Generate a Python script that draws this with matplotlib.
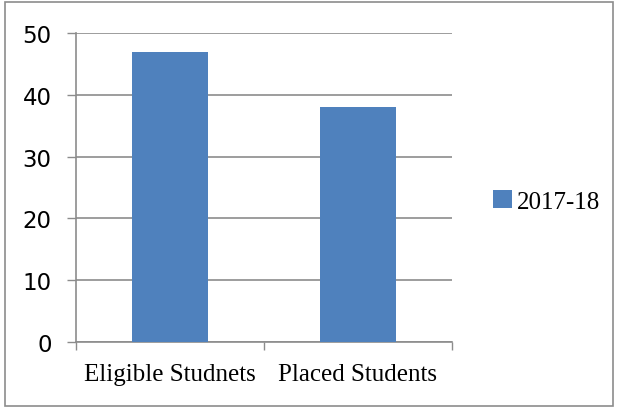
import matplotlib.pyplot as plt
from matplotlib.patches import Rectangle

# data
categories = ["Eligible Studnets", "Placed Students"]
values = [47, 38]
series_name = "2017-18"
y_ticks = [0, 10, 20, 30, 40, 50]

BAR_COLOR = "#4F81BD"
GRID_COLOR = "#8C8C8C"

fig = plt.figure(figsize=(6.19, 4.10), dpi=100)
ax = fig.add_axes([76 / 619, 67 / 410, (452 - 76) / 619, (343 - 34) / 410])

# balken, gecentreerd in elke categorie
xpos = [i + 0.5 for i in range(len(categories))]
ax.bar(xpos, values, width=0.4, color=BAR_COLOR, label=series_name, zorder=3)

ax.set_xlim(0, len(categories))
ax.set_ylim(0, 50)

# y-as
ax.set_yticks(y_ticks)
ax.tick_params(axis="y", direction="out", length=6.5, width=1, color=GRID_COLOR,
               labelsize=16.5, pad=11)
ax.yaxis.grid(True, color=GRID_COLOR, linewidth=1.2, zorder=0)

# x-as: labels in het midden, tickstreepjes op de grenzen
ax.set_xticks(xpos)
ax.set_xticklabels(categories, fontfamily="Liberation Serif", fontsize=18)
ax.tick_params(axis="x", which="major", length=0, pad=15)
ax.set_xticks(range(len(categories) + 1), minor=True)
ax.tick_params(axis="x", which="minor", direction="out", length=6, width=1,
               color=GRID_COLOR)

for side in ["top", "right"]:
    ax.spines[side].set_visible(False)
for side in ["left", "bottom"]:
    ax.spines[side].set_color(GRID_COLOR)
    ax.spines[side].set_linewidth(1.2)

# legenda rechts
ax.legend(loc="center left", bbox_to_anchor=(1.05, 0.455), frameon=False,
          prop={"family": "Liberation Serif", "size": 18},
          handlelength=0.75, handleheight=0.75, handletextpad=0.2)

# rand rond de figuur
fig.patches.append(Rectangle((5 / 619, 3 / 410), 608 / 619, 404 / 410,
                             transform=fig.transFigure, fill=False,
                             edgecolor="#8C8C8C", linewidth=1.2))

fig.savefig("out.png", dpi=100)
